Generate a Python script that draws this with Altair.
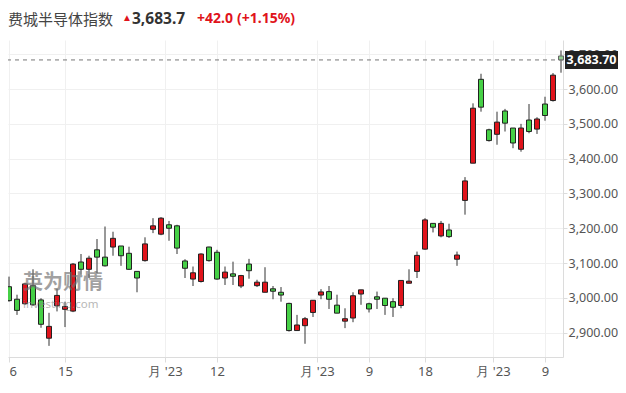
import altair as alt
import pandas as pd

# ---- data (daily candles) ----
opens = [3032, 2996, 2983, 3035, 2994, 2884, 2977, 2967, 2962, 3103,
         3082, 3138, 3117, 3146, 3149, 3128, 3076, 3107, 3197, 3183,
         3210, 3207, 3106, 3054, 3047, 3146, 3131, 3057, 3069, 3034,
         3097, 3035, 3016, 3026, 3016, 2984, 2906, 2920, 2958, 3008,
         3018, 2979, 2933, 2942, 3011, 2983, 3003, 2999, 2989, 2978,
         3042, 3076, 3140, 3214, 3178, 3195, 3111, 3280, 3387, 3628,
         3483, 3470, 3537, 3488, 3427, 3511, 3485, 3557, 3567, 3695]
highs = [3061, 3009, 3043, 3082, 2999, 2957, 3026, 2989, 3100, 3126,
         3121, 3169, 3205, 3190, 3149, 3147, 3076, 3174, 3229, 3232,
         3221, 3210, 3111, 3090, 3128, 3147, 3138, 3090, 3104, 3066,
         3112, 3052, 3088, 3034, 3031, 2986, 2951, 2945, 2993, 3025,
         3034, 3009, 2970, 3016, 3023, 2986, 3018, 2999, 2999, 3050,
         3082, 3133, 3229, 3214, 3221, 3213, 3133, 3347, 3559, 3644,
         3486, 3535, 3543, 3488, 3500, 3557, 3519, 3578, 3646, 3711]
lows = [2989, 2951, 2980, 2977, 2914, 2862, 2961, 2916, 2959, 3066,
        3057, 3071, 3090, 3121, 3092, 3080, 3016, 3104, 3186, 3180,
        3164, 3126, 3057, 3034, 3044, 3104, 3052, 3037, 3037, 3028,
        3055, 3031, 3016, 2996, 2989, 2903, 2906, 2868, 2945, 2996,
        2968, 2956, 2913, 2930, 2980, 2958, 2968, 2951, 2945, 2970,
        3042, 3057, 3138, 3188, 3174, 3172, 3092, 3239, 3387, 3535,
        3449, 3440, 3478, 3430, 3420, 3473, 3471, 3509, 3564, 3647]
closes = [2992, 2964, 3040, 2980, 2924, 2918, 3007, 2975, 3097, 3082,
          3114, 3117, 3092, 3171, 3121, 3082, 3057, 3155, 3207, 3229,
          3200, 3143, 3085, 3072, 3126, 3107, 3054, 3074, 3062, 3064,
          3078, 3045, 3045, 3019, 3008, 2906, 2922, 2940, 2993, 3017,
          2996, 2956, 2940, 3006, 3023, 2968, 2996, 2978, 2973, 3050,
          3048, 3122, 3224, 3203, 3214, 3176, 3123, 3336, 3545, 3548,
          3452, 3505, 3502, 3445, 3488, 3478, 3514, 3524, 3640, 3683.7]

# x-axis ticks (slot positions) and their labels
tick_pos = [0, 7, 19.5, 26, 38.5, 45, 52, 60.5, 67]
tick_labels = ["6", "15", "月 '23", "12", "月 '23", "9", "18", "月 '23", "9"]
y_ticks = [2900, 3000, 3100, 3200, 3300, 3400, 3500, 3600, 3700]

# header texts
title_name = "费城半导体指数"
title_price = "3,683.7"
title_change = "+42.0"
title_pct = "(+1.15%)"

RED = "#e0131b"
GREEN = "#46d046"
LIVE = "#93d193"

n = len(opens)
dirs = ["up" if c >= o else "down" for o, c in zip(opens, closes)]
dirs[-1] = "live"
df = pd.DataFrame({"i": list(range(n)), "open": opens, "high": highs,
                   "low": lows, "close": closes, "dir": dirs})
last_df = df.tail(1)

label_expr = " : ".join(
    f"datum.value == {p} ? \"{l}\"" for p, l in zip(tick_pos, tick_labels)
) + " : ''"

xscale = alt.Scale(domain=[-0.125, 69.25], nice=False, zero=False, padding=0)
yscale = alt.Scale(domain=[2830, 3741], nice=False, zero=False, padding=0)

x_axis = alt.Axis(values=tick_pos, labelExpr=label_expr, title=None,
                  grid=True, gridColor="#f0f0f0", domainColor="#dcdcdc",
                  tickColor="#dcdcdc", tickSize=5, labelPadding=3,
                  labelColor="#555", labelFontSize=13, labelFont="Noto Sans",
                  labelOverlap=False, labelFlush=3)
y_axis = alt.Axis(orient="right", values=y_ticks, format=",.2f", title=None,
                  grid=True, gridColor="#f0f0f0", domainColor="#dcdcdc",
                  tickColor="#dcdcdc", tickSize=4, labelPadding=1,
                  labelColor="#555", labelFontSize=12.5, labelFont="Noto Sans",
                  labelOverlap=False, labelFlush=False)


def Y(field):
    return alt.Y(field, type="quantitative", scale=yscale, axis=y_axis)


base = alt.Chart(df).encode(x=alt.X("i:Q", scale=xscale, axis=x_axis))

wicks = base.mark_rule(color="#333", strokeWidth=1).encode(y=Y("low"), y2="high:Q")

bodies = base.mark_bar(size=5, strokeWidth=1).encode(
    y=Y("open"), y2="close:Q",
    color=alt.Color("dir:N", scale=alt.Scale(domain=["up", "down", "live"],
                                             range=[RED, GREEN, LIVE]), legend=None),
    stroke=alt.condition(alt.datum.dir == "live", alt.value("#666"), alt.value("#222")))

last_line = alt.Chart(last_df).mark_rule(color="#777", strokeDash=[4, 4], strokeWidth=1).encode(
    y=Y("close"))

price_box = alt.Chart(last_df).mark_rect(color="#222", yOffset=-9, y2Offset=9).encode(
    x=alt.value(557), x2=alt.value(610),
    y=Y("close"), y2="close:Q")

price_text = alt.Chart(last_df).mark_text(color="white", fontWeight="bold", fontSize=12.5,
                                          font="Noto Sans", align="center", baseline="middle").encode(
    x=alt.value(583.5), y=Y("close"),
    text=alt.Text("close:Q", format=",.2f"))

one = pd.DataFrame({"a": [0]})


def label(text, x, size, color, weight="normal", font="Noto Sans", y=-21.5, opacity=1.0,
          align="left"):
    return alt.Chart(one).mark_text(align=align, baseline="middle", fontSize=size,
                                    color=color, fontWeight=weight, font=font,
                                    opacity=opacity).encode(
        x=alt.value(x), y=alt.value(y), text=alt.value(text))


t1 = label(title_name, 0, 15, "#444", font="Noto Sans CJK SC", y=-20.5)
t2 = label("▲", 119, 10, RED, align="center", y=-22)
t3 = label(title_price, 124, 15.5, "#333", weight="bold")
t4 = label(title_change, 189, 14, RED, weight="bold")
t5 = label(title_pct, 229, 14, RED, weight="bold")

wm1 = label("英为财情", 15, 20, "#6f6f6f", weight="bold", font="Noto Sans CJK SC", y=243,
            opacity=0.65)
wm2 = label("investing.com", 15, 11.5, "#888", y=265, opacity=0.6)

chart = alt.layer(
    wicks, bodies, last_line, wm1, wm2, price_box, price_text, t1, t2, t3, t4, t5
).properties(
    width=555, height=317,
    autosize=alt.AutoSizeParams(type="none"),
    padding={"left": 0, "top": 32, "right": 55, "bottom": 24},
    background="white",
).configure_view(stroke=None)

chart.save("out.html", embed_options={"renderer": "svg", "actions": False})
